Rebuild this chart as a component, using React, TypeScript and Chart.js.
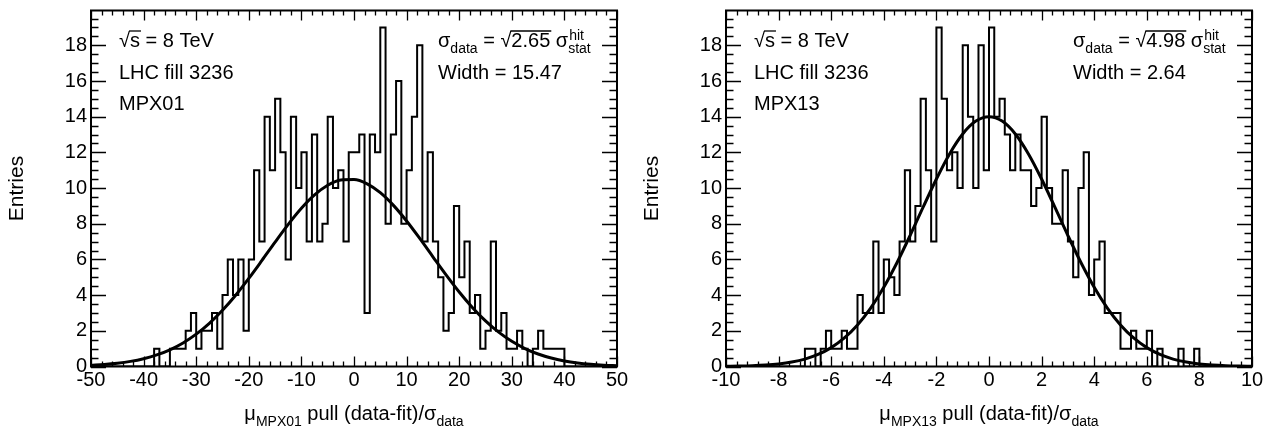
import React, { useEffect, useRef } from 'react';
import { Chart, registerables } from 'chart.js';

Chart.register(...registerables);

const FONT = '"Liberation Sans", Arial, Helvetica, sans-serif';

// ---------- Left panel: MPX01 ----------
const MPX01_X_MIN = -50;
const MPX01_X_MAX = 50;
const MPX01_BIN_WIDTH = 1;
const MPX01_COUNTS = [
  0, 0, 0, 0, 0, 0, 0, 0, 0, 0, 0, 0,
  1, 0, 0, 1, 1, 1, 2, 3, 1, 2,
  2, 3, 1, 4, 6, 4, 6, 2, 6, 11,
  7, 14, 11, 15, 12, 6, 14, 10, 12, 7,
  13, 7, 8, 14, 10, 11, 7, 12,
  12, 13, 3, 13, 12, 19, 8, 13, 16, 8,
  11, 14, 18, 7, 12, 7, 5, 2, 3, 9,
  5, 7, 3, 4, 1, 2, 7, 2, 3, 1,
  1, 2, 1, 0, 1, 2, 1, 1, 1, 1,
  0, 0, 0, 0, 0, 0, 0, 0, 0, 0,
];
const MPX01_FIT_X = [
  -50, -47.5, -45, -42.5, -40, -37.5, -35, -32.5, -30, -27.5, -25, -22.5, -20, -17.5, -15, -12.5, -10, -7.5, -5, -2.5,
  0, 2.5, 5, 7.5, 10, 12.5, 15, 17.5, 20, 22.5, 25, 27.5, 30, 32.5, 35, 37.5, 40, 42.5, 45, 47.5, 50,
];
const MPX01_FIT_Y = [
  0.07, 0.115, 0.184, 0.287, 0.438, 0.649, 0.938, 1.321, 1.812, 2.421, 3.151, 3.997, 4.939, 5.945, 6.972, 7.965, 8.865, 9.613, 10.155, 10.451,
  10.478, 10.235, 9.739, 9.029, 8.154, 7.175, 6.15, 5.136, 4.178, 3.312, 2.557, 1.924, 1.41, 1.007, 0.7, 0.474, 0.313, 0.201, 0.126, 0.077, 0.046,
];
const MPX01_X_TICKS = [-50, -40, -30, -20, -10, 0, 10, 20, 30, 40, 50];

// ---------- Right panel: MPX13 ----------
const MPX13_X_MIN = -10;
const MPX13_X_MAX = 10;
const MPX13_BIN_WIDTH = 0.2;
const MPX13_COUNTS = [
  0, 0, 0, 0, 0, 0, 0, 0, 0, 0, 0, 0, 0, 0, 0,
  1, 1, 0, 1, 2, 1, 1, 2, 1, 1,
  4, 3, 3, 7, 3, 6, 5, 4, 7, 11,
  7, 9, 15, 11, 7, 19, 15, 11, 12, 10,
  18, 14, 10, 18, 11,
  19, 14, 15, 13, 11, 13, 11, 11, 9, 10,
  14, 10, 8, 8, 11, 7, 5, 10, 12, 4,
  6, 7, 3, 3, 3, 1, 1, 2, 1, 1,
  2, 0, 1, 0, 0, 0, 1, 0, 0, 1,
  0, 0, 0, 0, 0, 0, 0, 0, 0, 0,
];
const MPX13_FIT_X = [
  -10, -9.5, -9, -8.5, -8, -7.5, -7, -6.5, -6, -5.5, -5, -4.5, -4, -3.5, -3, -2.5, -2, -1.5, -1, -0.5,
  0, 0.5, 1, 1.5, 2, 2.5, 3, 3.5, 4, 4.5, 5, 5.5, 6, 6.5, 7, 7.5, 8, 8.5, 9, 9.5, 10,
];
const MPX13_FIT_Y = [
  0.011, 0.022, 0.042, 0.079, 0.142, 0.248, 0.416, 0.676, 1.058, 1.599, 2.329, 3.275, 4.442, 5.814, 7.34, 8.941, 10.508, 11.913, 13.031, 13.751,
  14.0, 13.751, 13.031, 11.913, 10.508, 8.941, 7.34, 5.814, 4.442, 3.275, 2.329, 1.599, 1.058, 0.676, 0.416, 0.248, 0.142, 0.079, 0.042, 0.022, 0.011,
];
const MPX13_X_TICKS = [-10, -8, -6, -4, -2, 0, 2, 4, 6, 8, 10];

// ---------- Shared ----------
const Y_MAX = 19.95;
const Y_TICKS = [0, 2, 4, 6, 8, 10, 12, 14, 16, 18];

type Run = { t: string; size?: number; dy?: number; over?: boolean; sup?: string; sub?: string };

function drawRuns(ctx: CanvasRenderingContext2D, x: number, y: number, runs: Run[], measureOnly = false): number {
  let cx = x;
  for (const r of runs) {
    if (r.sup !== undefined || r.sub !== undefined) {
      ctx.font = `14px ${FONT}`;
      const w1 = ctx.measureText(r.sup || '').width;
      const w2 = ctx.measureText(r.sub || '').width;
      if (!measureOnly) {
        ctx.fillText(r.sup || '', cx + 1, y - 7);
        ctx.fillText(r.sub || '', cx, y + 6);
      }
      cx += Math.max(w1 + 1, w2);
      continue;
    }
    const size = r.size ?? 20;
    ctx.font = `${size}px ${FONT}`;
    const w = ctx.measureText(r.t).width;
    if (!measureOnly) {
      ctx.fillText(r.t, cx, y + (r.dy ?? 0));
      if (r.over) {
        ctx.beginPath();
        ctx.lineWidth = 1.3;
        ctx.moveTo(cx - 1, y - 16);
        ctx.lineTo(cx + w + 1, y - 16);
        ctx.stroke();
      }
    }
    cx += w;
  }
  return cx - x;
}

type PanelCfg = {
  name: string;
  xMin: number;
  xMax: number;
  binWidth: number;
  counts: number[];
  fitX: number[];
  fitY: number[];
  xTicks: number[];
  xMajor: number;
  xMinor: number;
  sqrtFactor: string;
  width: string;
};

const PANELS: PanelCfg[] = [
  {
    name: 'MPX01', xMin: MPX01_X_MIN, xMax: MPX01_X_MAX, binWidth: MPX01_BIN_WIDTH, counts: MPX01_COUNTS,
    fitX: MPX01_FIT_X, fitY: MPX01_FIT_Y, xTicks: MPX01_X_TICKS, xMajor: 10, xMinor: 2,
    sqrtFactor: '2.65', width: '15.47',
  },
  {
    name: 'MPX13', xMin: MPX13_X_MIN, xMax: MPX13_X_MAX, binWidth: MPX13_BIN_WIDTH, counts: MPX13_COUNTS,
    fitX: MPX13_FIT_X, fitY: MPX13_FIT_Y, xTicks: MPX13_X_TICKS, xMajor: 2, xMinor: 0.4,
    sqrtFactor: '4.98', width: '2.64',
  },
];

function makeDecor(cfg: PanelCfg) {
  return {
    id: 'decor' + cfg.name,
    afterDatasetsDraw(chart: any) {
      const ctx: CanvasRenderingContext2D = chart.ctx;
      const { left, right, top, bottom } = chart.chartArea;
      const xs = chart.scales.x;
      const ys = chart.scales.y;
      ctx.save();
      ctx.strokeStyle = '#000';
      ctx.lineWidth = 1.3;
      ctx.beginPath();
      const nx = Math.round((cfg.xMax - cfg.xMin) / cfg.xMinor);
      const perMajorX = Math.round(cfg.xMajor / cfg.xMinor);
      for (let i = 0; i <= nx; i++) {
        const v = cfg.xMin + i * cfg.xMinor;
        const px = Math.round(xs.getPixelForValue(v)) + 0.5;
        const len = i % perMajorX === 0 ? 10 : 5;
        ctx.moveTo(px, bottom);
        ctx.lineTo(px, bottom - len);
        ctx.moveTo(px, top);
        ctx.lineTo(px, top + len);
      }
      const ny = Math.floor(Y_MAX / 0.5 + 1e-9);
      for (let i = 0; i <= ny; i++) {
        const v = i * 0.5;
        const py = Math.round(ys.getPixelForValue(v)) + 0.5;
        const len = i % 4 === 0 ? 15 : 7.5;
        ctx.moveTo(left, py);
        ctx.lineTo(left + len, py);
        ctx.moveTo(right, py);
        ctx.lineTo(right - len, py);
      }
      ctx.stroke();
      ctx.lineWidth = 2;
      ctx.strokeRect(left, top, right - left, bottom - top);
      ctx.restore();
    },
    afterDraw(chart: any) {
      const ctx: CanvasRenderingContext2D = chart.ctx;
      const { left, right } = chart.chartArea;
      ctx.save();
      ctx.fillStyle = '#000';
      ctx.strokeStyle = '#000';
      ctx.textBaseline = 'alphabetic';
      ctx.textAlign = 'left';
      const tx = left + 28;
      drawRuns(ctx, tx, 47, [{ t: '√' }, { t: 's', over: true }, { t: ' = 8 TeV' }]);
      drawRuns(ctx, tx, 79, [{ t: 'LHC fill 3236' }]);
      drawRuns(ctx, tx, 110, [{ t: cfg.name }]);
      const rx = left + 347;
      drawRuns(ctx, rx, 47, [
        { t: 'σ' },
        { t: 'data', size: 14, dy: 6 },
        { t: ' = ' },
        { t: '√' },
        { t: cfg.sqrtFactor, over: true },
        { t: ' σ' },
        { t: '', sup: 'hit', sub: 'stat' },
      ]);
      drawRuns(ctx, rx, 79, [{ t: 'Width = ' + cfg.width }]);
      const titleRuns: Run[] = [
        { t: 'μ' },
        { t: cfg.name, size: 14, dy: 6 },
        { t: ' pull (data-fit)/σ' },
        { t: 'data', size: 14, dy: 6 },
      ];
      const w = drawRuns(ctx, 0, 0, titleRuns, true);
      drawRuns(ctx, (left + right) / 2 - w / 2, 420, titleRuns);
      ctx.restore();
    },
  };
}

function HistPanel({ cfg, offset }: { cfg: PanelCfg; offset: number }) {
  const ref = useRef<HTMLCanvasElement>(null);
  useEffect(() => {
    const canvas = ref.current;
    if (!canvas) return;
    const histPts = cfg.counts.map((c, i) => ({ x: cfg.xMin + i * cfg.binWidth, y: c }));
    histPts.push({ x: cfg.xMax, y: cfg.counts[cfg.counts.length - 1] });
    const fitPts = cfg.fitX.map((x, i) => ({ x, y: cfg.fitY[i] }));
    const chart = new Chart(canvas, {
      type: 'line',
      data: {
        datasets: [
          {
            label: 'fit',
            data: fitPts,
            borderColor: '#000',
            borderWidth: 3,
            pointRadius: 0,
            fill: false,
            cubicInterpolationMode: 'monotone',
            order: 0,
          },
          {
            label: cfg.name,
            data: histPts,
            stepped: true,
            borderColor: '#000',
            borderWidth: 2,
            borderJoinStyle: 'miter',
            pointRadius: 0,
            fill: false,
            order: 1,
          },
        ],
      } as any,
      options: {
        animation: false,
        responsive: false,
        maintainAspectRatio: false,
        devicePixelRatio: 1,
        events: [],
        layout: { padding: { left: 0, right: 17, top: 10.5, bottom: 0 } },
        plugins: { legend: { display: false }, tooltip: { enabled: false }, title: { display: false } },
        scales: {
          x: {
            type: 'linear',
            min: cfg.xMin,
            max: cfg.xMax,
            afterBuildTicks: (s: any) => {
              s.ticks = cfg.xTicks.map((v) => ({ value: v }));
            },
            afterFit: (s: any) => {
              s.height = 68.5;
              s.paddingLeft = 0;
              s.paddingRight = 0;
            },
            grid: { display: false, drawTicks: false },
            border: { display: false },
            ticks: {
              font: { family: FONT, size: 20 },
              color: '#000',
              padding: 2,
              maxRotation: 0,
              autoSkip: false,
              callback: (v: any) => String(v),
            },
          },
          y: {
            type: 'linear',
            min: 0,
            max: Y_MAX,
            afterBuildTicks: (s: any) => {
              s.ticks = Y_TICKS.map((v) => ({ value: v }));
            },
            afterFit: (s: any) => {
              s.width = 91;
              s.paddingTop = 0;
              s.paddingBottom = 0;
            },
            grid: { display: false, drawTicks: false },
            border: { display: false },
            ticks: {
              font: { family: FONT, size: 20 },
              color: '#000',
              padding: 4,
              autoSkip: false,
              callback: (v: any) => String(v),
            },
            title: {
              display: true,
              text: 'Entries',
              font: { family: FONT, size: 21 },
              color: '#000',
              padding: { top: 5, bottom: 0 },
            },
          },
        },
      } as any,
      plugins: [makeDecor(cfg)],
    });
    return () => chart.destroy();
  }, [cfg]);
  return (
    <canvas
      ref={ref}
      width={634}
      height={435}
      style={{ position: 'absolute', left: offset, top: 0, width: 634, height: 435 }}
    />
  );
}

export default function App() {
  return (
    <div style={{ position: 'absolute', left: 0, top: 0, width: 1269, height: 435, background: '#fff' }}>
      <HistPanel cfg={PANELS[0]} offset={0} />
      <HistPanel cfg={PANELS[1]} offset={635} />
    </div>
  );
}
